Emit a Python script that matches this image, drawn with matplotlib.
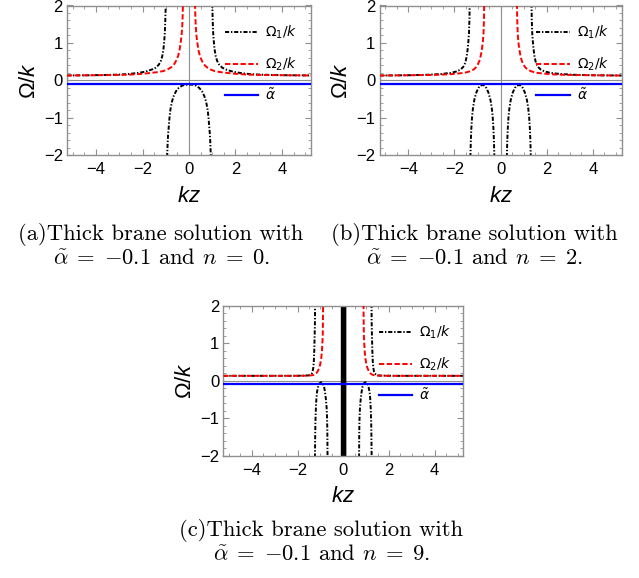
import matplotlib
matplotlib.use("Agg")
import matplotlib.pyplot as plt
from matplotlib.ticker import MultipleLocator
from matplotlib.font_manager import FontProperties

plt.rcParams['font.family'] = ['Liberation Sans', 'DejaVu Sans']
plt.rcParams['mathtext.fontset'] = 'custom'
plt.rcParams['mathtext.rm'] = 'Liberation Sans'
plt.rcParams['mathtext.it'] = 'Liberation Sans:italic'
plt.rcParams['lines.scale_dashes'] = False

alpha_t = -0.1

# ---- panel (a), n = 0 : values
a_o1_left_x = [-5.25, -4.3, -3.6, -3.0, -2.6, -2.2, -2.0, -1.79, -1.60, -1.43, -1.30, -1.21, -1.15, -1.10, -1.07, -1.04, -1.02, -1.00]
a_o1_left_y = [0.132, 0.137, 0.145, 0.155, 0.17, 0.20, 0.22, 0.25, 0.29, 0.34, 0.42, 0.52, 0.65, 0.83, 1.02, 1.27, 1.60, 2.05]
a_o1_mid_x = [-0.94, -0.92, -0.90, -0.87, -0.84, -0.80, -0.74, -0.66, -0.56, -0.44, -0.30, -0.15, 0.0, 0.15, 0.30, 0.44, 0.56, 0.66, 0.74, 0.80, 0.84, 0.87, 0.90, 0.92, 0.94]
a_o1_mid_y = [-2.05, -1.70, -1.45, -1.23, -1.00, -0.78, -0.58, -0.42, -0.29, -0.20, -0.14, -0.115, -0.11, -0.115, -0.14, -0.20, -0.29, -0.42, -0.58, -0.78, -1.00, -1.23, -1.45, -1.70, -2.05]
a_o1_right_x = [1.00, 1.02, 1.04, 1.07, 1.10, 1.15, 1.21, 1.30, 1.43, 1.60, 1.79, 2.0, 2.2, 2.6, 3.0, 3.6, 4.3, 5.25]
a_o1_right_y = [2.05, 1.60, 1.27, 1.02, 0.83, 0.65, 0.52, 0.42, 0.34, 0.29, 0.25, 0.22, 0.20, 0.17, 0.155, 0.145, 0.137, 0.132]
a_o2_left_x = [-5.25, -4.2, -3.3, -2.5, -1.93, -1.65, -1.36, -1.10, -0.93, -0.77, -0.64, -0.55, -0.47, -0.41, -0.36, -0.32, -0.29, -0.27, -0.26]
a_o2_left_y = [0.132, 0.137, 0.143, 0.155, 0.18, 0.20, 0.22, 0.25, 0.29, 0.35, 0.43, 0.53, 0.65, 0.80, 1.00, 1.20, 1.45, 1.78, 2.05]
a_o2_right_x = [0.26, 0.27, 0.29, 0.32, 0.36, 0.41, 0.47, 0.55, 0.64, 0.77, 0.93, 1.10, 1.36, 1.65, 1.93, 2.5, 3.3, 4.2, 5.25]
a_o2_right_y = [2.05, 1.78, 1.45, 1.20, 1.00, 0.80, 0.65, 0.53, 0.43, 0.35, 0.29, 0.25, 0.22, 0.20, 0.18, 0.155, 0.143, 0.137, 0.132]

# ---- panel (b), n = 2
b_o1_left_x = [-5.25, -4.0, -3.2, -2.6, -2.17, -1.9, -1.74, -1.62, -1.53, -1.47, -1.43, -1.40, -1.37, -1.35, -1.34]
b_o1_left_y = [0.13, 0.138, 0.15, 0.17, 0.20, 0.24, 0.29, 0.36, 0.47, 0.64, 0.83, 1.02, 1.27, 1.65, 2.05]
b_o1_archl_x = [-1.31, -1.29, -1.27, -1.24, -1.20, -1.14, -1.05, -0.96, -0.87, -0.79, -0.71, -0.62, -0.53, -0.44, -0.38, -0.34, -0.31, -0.29, -0.27]
b_o1_archl_y = [-2.05, -1.6, -1.3, -1.0, -0.75, -0.52, -0.32, -0.2, -0.14, -0.12, -0.14, -0.2, -0.32, -0.52, -0.75, -1.0, -1.3, -1.6, -2.05]
b_o1_archr_x = [0.27, 0.29, 0.31, 0.34, 0.38, 0.44, 0.53, 0.62, 0.71, 0.79, 0.87, 0.96, 1.05, 1.14, 1.20, 1.24, 1.27, 1.29, 1.31]
b_o1_archr_y = [-2.05, -1.6, -1.3, -1.0, -0.75, -0.52, -0.32, -0.2, -0.14, -0.12, -0.14, -0.2, -0.32, -0.52, -0.75, -1.0, -1.3, -1.6, -2.05]
b_o1_right_x = [1.34, 1.35, 1.37, 1.40, 1.43, 1.47, 1.53, 1.62, 1.74, 1.9, 2.17, 2.6, 3.2, 4.0, 5.25]
b_o1_right_y = [2.05, 1.65, 1.27, 1.02, 0.83, 0.64, 0.47, 0.36, 0.29, 0.24, 0.20, 0.17, 0.15, 0.138, 0.13]
b_o2_left_x = [-5.25, -4.0, -3.0, -2.3, -1.9, -1.6, -1.45, -1.30, -1.17, -1.08, -0.99, -0.92, -0.86, -0.81, -0.77, -0.74, -0.72, -0.71]
b_o2_left_y = [0.13, 0.137, 0.145, 0.16, 0.18, 0.20, 0.22, 0.25, 0.29, 0.34, 0.42, 0.52, 0.66, 0.83, 1.03, 1.27, 1.65, 2.05]
b_o2_right_x = [0.71, 0.72, 0.74, 0.77, 0.81, 0.86, 0.92, 0.99, 1.08, 1.17, 1.30, 1.45, 1.6, 1.9, 2.3, 3.0, 4.0, 5.25]
b_o2_right_y = [2.05, 1.65, 1.27, 1.03, 0.83, 0.66, 0.52, 0.42, 0.34, 0.29, 0.25, 0.22, 0.20, 0.18, 0.16, 0.145, 0.137, 0.13]

# ---- panel (c), n = 9
c_o1_left_x = [-5.25, -2.2, -1.7, -1.53, -1.44, -1.38, -1.34, -1.31, -1.29, -1.27, -1.26, -1.25, -1.24, -1.235]
c_o1_left_y = [0.13, 0.13, 0.135, 0.14, 0.16, 0.19, 0.25, 0.36, 0.5, 0.8, 1.05, 1.3, 1.6, 2.05]
c_o1_archl_x = [-1.24, -1.23, -1.22, -1.20, -1.18, -1.15, -1.11, -1.07, -1.02, -0.96, -0.90, -0.84, -0.80, -0.76, -0.73, -0.71, -0.70, -0.695, -0.69]
c_o1_archl_y = [-2.05, -1.5, -1.1, -0.75, -0.5, -0.3, -0.18, -0.1, -0.06, -0.04, -0.07, -0.16, -0.3, -0.5, -0.72, -1.0, -1.3, -1.6, -2.05]
c_o1_archr_x = [0.69, 0.695, 0.70, 0.71, 0.73, 0.76, 0.80, 0.84, 0.90, 0.96, 1.02, 1.07, 1.11, 1.15, 1.18, 1.20, 1.22, 1.23, 1.24]
c_o1_archr_y = [-2.05, -1.6, -1.3, -1.0, -0.72, -0.5, -0.3, -0.16, -0.07, -0.04, -0.06, -0.1, -0.18, -0.3, -0.5, -0.75, -1.1, -1.5, -2.05]
c_o1_right_x = [1.235, 1.24, 1.25, 1.26, 1.27, 1.29, 1.31, 1.34, 1.38, 1.44, 1.53, 1.7, 2.2, 5.25]
c_o1_right_y = [2.05, 1.6, 1.3, 1.05, 0.8, 0.5, 0.36, 0.25, 0.19, 0.16, 0.14, 0.135, 0.13, 0.13]
c_o1_core_x = [-0.08, -0.06, -0.04, -0.02, 0.0, 0.02, 0.04, 0.06, 0.08]
c_o2_left_x = [-5.25, -3.0, -2.0, -1.6, -1.45, -1.32, -1.24, -1.18, -1.12, -1.06, -1.01, -0.97, -0.94, -0.92, -0.90, -0.89, -0.885]
c_o2_left_y = [0.13, 0.13, 0.13, 0.135, 0.14, 0.15, 0.17, 0.2, 0.25, 0.33, 0.44, 0.58, 0.75, 0.95, 1.2, 1.6, 2.05]
c_o2_right_x = [0.885, 0.89, 0.90, 0.92, 0.94, 0.97, 1.01, 1.06, 1.12, 1.18, 1.24, 1.32, 1.45, 1.6, 2.0, 3.0, 5.25]
c_o2_right_y = [2.05, 1.6, 1.2, 0.95, 0.75, 0.58, 0.44, 0.33, 0.25, 0.2, 0.17, 0.15, 0.14, 0.135, 0.13, 0.13, 0.13]

labels = [r'$\Omega_1/k$', r'$\Omega_2/k$', r'$\tilde{\alpha}$']
captions = [
    ('(a)Thick brane solution with', r'$\tilde{\alpha}\;=\;{-0.1}$ and $n\;=\;0$.'),
    ('(b)Thick brane solution with', r'$\tilde{\alpha}\;=\;{-0.1}$ and $n\;=\;2$.'),
    ('(c)Thick brane solution with', r'$\tilde{\alpha}\;=\;{-0.1}$ and $n\;=\;9$.'),
]

o1_style = dict(color='black', lw=1.4, dashes=(3.0, 1.3, 1.0, 1.3))
o2_style = dict(color='red', lw=1.4, dashes=(3.8, 1.8))
al_style = dict(color='blue', lw=1.6)
gray = '#8f8f8f'

fig = plt.figure(figsize=(6.39, 5.78), dpi=100)
W, H = 639.0, 578.0


def make_ax(left, top, right, bottom):
    return fig.add_axes([left / W, 1 - bottom / H, (right - left) / W, (bottom - top) / H])


def draw(ax, o1, o2, core=None):
    ax.axhline(0, color=gray, lw=0.8, zorder=1)
    ax.axvline(0, color=gray, lw=0.8, zorder=1)
    h1 = None
    for xs, ys in o1:
        h1, = ax.plot(xs, ys, **o1_style, zorder=2)
    if core is not None:
        ax.vlines(core, -2.05, 2.05, color='black', lw=1.0, zorder=2)
    h2 = None
    for xs, ys in o2:
        h2, = ax.plot(xs, ys, **o2_style, zorder=3)
    h3 = ax.axhline(alpha_t, **al_style, zorder=4)
    ax.set_xlim(-5.25, 5.25)
    ax.set_ylim(-2, 2)
    ax.xaxis.set_major_locator(MultipleLocator(2))
    ax.xaxis.set_minor_locator(MultipleLocator(0.5))
    ax.yaxis.set_major_locator(MultipleLocator(1))
    ax.yaxis.set_minor_locator(MultipleLocator(0.2))
    ax.tick_params(which='both', direction='in', top=True, right=True, color=gray, labelsize=12)
    ax.tick_params(which='major', length=4, width=0.8)
    ax.tick_params(which='minor', length=2, width=0.6)
    ax.tick_params(axis='x', pad=5)
    ax.tick_params(axis='y', pad=3)
    for sp in ax.spines.values():
        sp.set_color(gray)
        sp.set_linewidth(1.0)
    ax.set_xlabel(r'$kz$', fontsize=16, labelpad=6)
    ax.set_ylabel(r'$\Omega/k$', fontsize=16, labelpad=3)
    prop = FontProperties(family='DejaVu Sans', size=10, math_fontfamily='dejavusans')
    ax.legend([h1, h2, h3], labels, loc='upper left', bbox_to_anchor=(0.648, 0.88),
              frameon=False, prop=prop, handlelength=2.4, handletextpad=0.5,
              labelspacing=1.05, borderpad=0, borderaxespad=0)


ax_a = make_ax(67, 5.5, 311, 155.3)
draw(ax_a,
     [(a_o1_left_x, a_o1_left_y), (a_o1_mid_x, a_o1_mid_y), (a_o1_right_x, a_o1_right_y)],
     [(a_o2_left_x, a_o2_left_y), (a_o2_right_x, a_o2_right_y)])

ax_b = make_ax(379.5, 5.5, 621.7, 155.3)
draw(ax_b,
     [(b_o1_left_x, b_o1_left_y), (b_o1_archl_x, b_o1_archl_y), (b_o1_archr_x, b_o1_archr_y), (b_o1_right_x, b_o1_right_y)],
     [(b_o2_left_x, b_o2_left_y), (b_o2_right_x, b_o2_right_y)])

ax_c = make_ax(223.3, 305.7, 463.3, 455.7)
draw(ax_c,
     [(c_o1_left_x, c_o1_left_y), (c_o1_archl_x, c_o1_archl_y), (c_o1_archr_x, c_o1_archr_y), (c_o1_right_x, c_o1_right_y)],
     [(c_o2_left_x, c_o2_left_y), (c_o2_right_x, c_o2_right_y)], core=c_o1_core_x)

cap_pos = [(161, 235), (474, 235), (321, 531)]
for (l1, l2), (cx, cy) in zip(captions, cap_pos):
    fig.text(cx / W, 1 - cy / H, l1, ha='center', va='center', fontsize=16.3,
             family='cmr10', math_fontfamily='cm')
    fig.text(cx / W, 1 - (cy + 23) / H, l2, ha='center', va='center', fontsize=16.3,
             family='cmr10', math_fontfamily='cm')

fig.savefig('out.png', dpi=100)
